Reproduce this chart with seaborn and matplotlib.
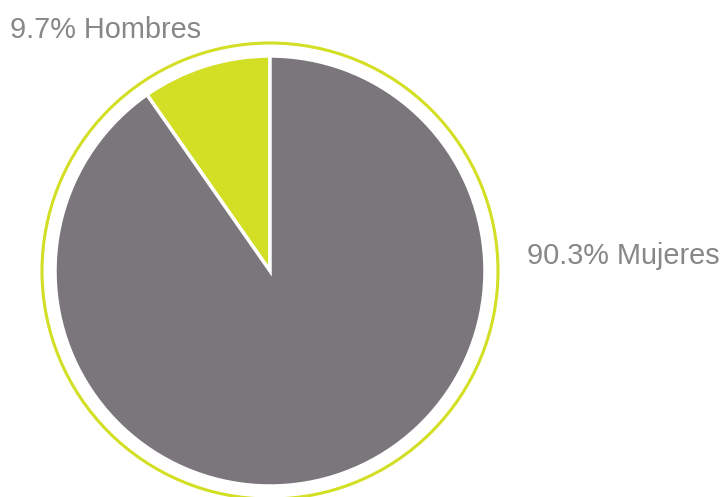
import matplotlib
matplotlib.use("Agg")
import matplotlib.pyplot as plt
import seaborn as sns
from matplotlib.patches import Circle

# Distribución por sexo
categories = ["Hombres", "Mujeres"]
shares = [9.7, 90.3]
colors = ["#d3df24", "#7a767c"]

sns.set_theme(style="white")
plt.rcParams["font.family"] = ["Liberation Sans", "DejaVu Sans"]

W, H = 726, 497
fig = plt.figure(figsize=(W / 100, H / 100), dpi=100)
ax = fig.add_axes([0, 0, 1, 1])

cx, cy = 270, H - 271
ax.pie(shares, colors=colors, startangle=90, counterclock=True,
       center=(cx, cy), radius=215, frame=True,
       wedgeprops=dict(edgecolor="white", linewidth=2.5))
ax.set_xlim(0, W)
ax.set_ylim(0, H)
ax.set_aspect("equal")
ax.axis("off")

# Anillo exterior
ax.add_patch(Circle((cx, cy), 228, fill=False, edgecolor="#d3df24", linewidth=2.2))

label_color = "#878787"
ax.text(10, H - 38, f"{shares[0]}% {categories[0]}", fontsize=20.8,
        color=label_color, ha="left", va="baseline")
ax.text(527, H - 264, f"{shares[1]}% {categories[1]}", fontsize=20.8,
        color=label_color, ha="left", va="baseline")

fig.savefig("out.png", dpi=100)
